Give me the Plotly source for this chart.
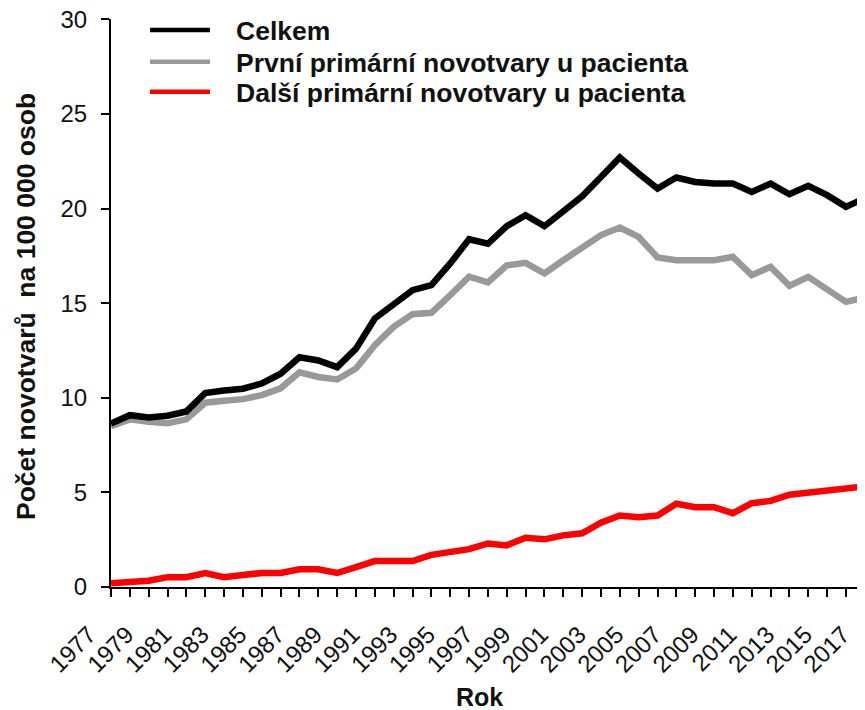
import plotly.graph_objects as go

years = list(range(1977, 2018))
tick_labels = [str(y) if (y - 1977) % 2 == 0 else "" for y in years]

celkem = [8.64, 9.08, 8.96, 9.05, 9.28, 10.25, 10.38, 10.48, 10.76, 11.27,
          12.14, 11.97, 11.62, 12.6, 14.19, 14.9, 15.69, 15.95, 17.1, 18.38,
          18.14, 19.07, 19.65, 19.07, 19.83, 20.65, 21.67, 22.7, 21.85, 21.06,
          21.64, 21.41, 21.32, 21.32, 20.88, 21.32, 20.76, 21.2, 20.71, 20.09,
          20.55]
prvni = [8.5, 8.86, 8.73, 8.65, 8.86, 9.74, 9.84, 9.93, 10.14, 10.5,
         11.35, 11.1, 10.97, 11.55, 12.78, 13.75, 14.42, 14.49, 15.42, 16.4,
         16.1, 17.0, 17.13, 16.57, 17.27, 17.98, 18.6, 19.0, 18.5, 17.42,
         17.27, 17.27, 17.27, 17.45, 16.48, 16.92, 15.92, 16.39, 15.78, 15.07,
         15.3]
dalsi = [0.2, 0.3, 0.33, 0.52, 0.52, 0.74, 0.52, 0.63, 0.74, 0.74,
         0.94, 0.94, 0.74, 1.05, 1.37, 1.37, 1.37, 1.7, 1.82, 2.0,
         2.3, 2.2, 2.6, 2.52, 2.73, 2.84, 3.4, 3.78, 3.69, 3.78,
         4.4, 4.22, 4.22, 3.9, 4.43, 4.55, 4.88, 4.98, 5.1, 5.21,
         5.32]

series_names = ["Celkem", "První primární novotvary u pacienta", "Další primární novotvary u pacienta"]
series_colors = ["#000000", "#999999", "#ff0000"]
y_ticks = [0, 5, 10, 15, 20, 25, 30]

FONT = "Liberation Sans, Arial, sans-serif"

fig = go.Figure()
# draw order: red, grey, black on top
fig.add_trace(go.Scatter(x=years, y=dalsi, mode="lines", name=series_names[2],
                         line=dict(color=series_colors[2], width=6.5), showlegend=False))
fig.add_trace(go.Scatter(x=years, y=prvni, mode="lines", name=series_names[1],
                         line=dict(color=series_colors[1], width=6.5), showlegend=False))
fig.add_trace(go.Scatter(x=years, y=celkem, mode="lines", name=series_names[0],
                         line=dict(color=series_colors[0], width=6.5), showlegend=False))

OFF = 8  # page body margin
W, H = 865 - OFF, 710 - OFF
L, R, T = 111 - OFF, 0, 19 - OFF
B = H - (587 - OFF)
pw, ph = W - L - R, H - T - B

def px_x(px):
    return (px - OFF - L) / pw

def px_y(py):
    return (H - B - (py - OFF)) / ph

# manual legend
legend_rows = [30, 61.7, 91.7]
shapes = []
annotations = []
for name, color, ry in zip(series_names, series_colors, legend_rows):
    shapes.append(dict(type="line", xref="paper", yref="paper",
                       x0=px_x(150), x1=px_x(210), y0=px_y(ry), y1=px_y(ry),
                       line=dict(color=color, width=4.5)))
    annotations.append(dict(text="<b>%s</b>" % name, xref="paper", yref="paper",
                            x=px_x(234), y=px_y(ry + 1), xanchor="left", yanchor="middle",
                            showarrow=False, font=dict(family=FONT, size=26.5, color="#111111")))

annotations.append(dict(text="<b>Rok</b>", xref="paper", yref="paper",
                        x=px_x(479), y=px_y(697), xanchor="center", yanchor="middle",
                        showarrow=False, font=dict(family=FONT, size=25, color="#111111")))
annotations.append(dict(text="<b>Počet novotvarů  na 100 000 osob</b>", xref="paper", yref="paper",
                        x=px_x(26), y=px_y(307), xanchor="center", yanchor="middle",
                        textangle=-90, showarrow=False,
                        font=dict(family=FONT, size=26.5, color="#111111")))

fig.update_layout(
    width=W, height=H,
    margin=dict(l=L, r=R, t=T, b=B, autoexpand=False),
    paper_bgcolor="white", plot_bgcolor="white",
    shapes=shapes, annotations=annotations,
    showlegend=False,
)
fig.update_xaxes(
    range=[1977, 2017.01], tickmode="array", tickvals=years, ticktext=tick_labels,
    tickangle=-45, ticks="outside", ticklen=8, tickwidth=2, tickcolor="black",
    showline=True, linecolor="black", linewidth=2, showgrid=False, zeroline=False,
    automargin=False, ticklabelstandoff=14, ticklabelshift=-22, ticklabeloverflow="allow",
    tickfont=dict(family=FONT, size=24, color="#111111"),
)
fig.update_yaxes(
    range=[0, 30.02], tickmode="array", tickvals=y_ticks,
    ticks="outside", ticklen=8, tickwidth=2, tickcolor="black",
    showline=True, linecolor="black", linewidth=2, showgrid=False, zeroline=False,
    automargin=False, ticklabelstandoff=9, ticklabeloverflow="allow",
    tickfont=dict(family=FONT, size=24, color="#111111"),
)

fig.write_html("out.html")
